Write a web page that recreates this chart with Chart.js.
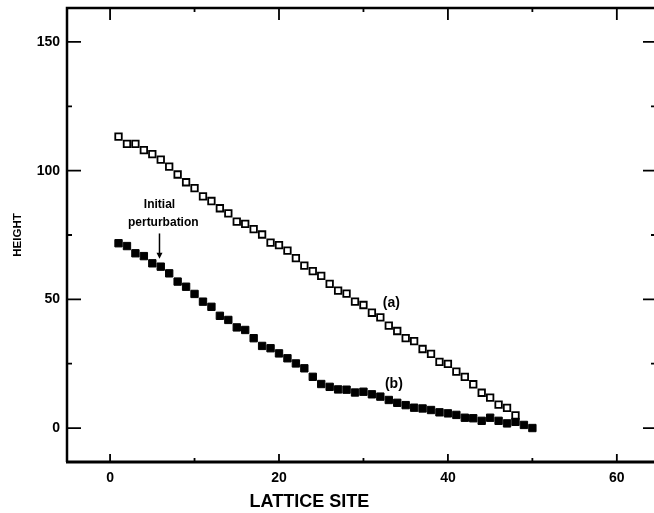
<!DOCTYPE html>
<html>
<head>
<meta charset="utf-8">
<script src="https://cdn.jsdelivr.net/npm/chart.js@4/dist/chart.umd.min.js"></script>
<style>
  html, body { margin: 0; padding: 0; background: #fff; }
  #wrap { width: 654px; height: 513px; }
</style>
</head>
<body>
<div id="wrap"><canvas id="c" width="654" height="513"></canvas></div>
<script>
// Lattice sites and surface heights
const sitesA = [1,2,3,4,5,6,7,8,9,10,11,12,13,14,15,16,17,18,19,20,21,22,23,24,25,26,27,28,29,30,31,32,33,34,35,36,37,38,39,40,41,42,43,44,45,46,47,48];
const heightA = [113.2,110.4,110.4,108,106.4,104.3,101.6,98.5,95.5,93.2,90,88.2,85.4,83.4,80.2,79.3,77.3,75.2,72,71.1,68.9,66,63.1,61,59.1,56,53.4,52.2,49.1,47.8,44.8,43,39.8,37.7,34.9,33.8,30.7,28.8,25.7,24.9,21.9,19.9,17,13.7,11.8,9.1,7.8,4.9];
const sitesB = [1,2,3,4,5,6,7,8,9,10,11,12,13,14,15,16,17,18,19,20,21,22,23,24,25,26,27,28,29,30,31,32,33,34,35,36,37,38,39,40,41,42,43,44,45,46,47,48,49,50];
const heightB = [71.8,70.7,67.9,66.8,64,62.7,60.1,56.9,54.9,52.1,49.1,47.1,43.6,42,39.1,38.1,34.9,31.9,31,29,27.1,25.1,23.2,19.9,17.1,16,15,14.9,13.8,14.1,13.1,12.2,10.9,9.8,8.9,7.9,7.6,7,6.1,5.7,5.1,4,3.8,2.8,4,2.8,1.8,2.4,1.2,0];
const xTickLabels = [0, 20, 40, 60];
const yTickLabels = [0, 50, 100, 150];

const FONT = "'Liberation Sans', Arial, sans-serif";

const toPoints = (xs, ys) => xs.map((x, i) => ({ x: x, y: ys[i] }));
const labelFor = list => v => {
  const r = Math.round(v);
  return Math.abs(v - r) < 1e-6 && list.includes(r) ? String(r) : '';
};

// Frame, inward tick marks and text annotations
const framePlugin = {
  id: 'frame',
  afterDraw(chart) {
    const ctx = chart.ctx;
    const a = chart.chartArea;
    const W = chart.width;
    const xs = chart.scales.x, ys = chart.scales.y;
    ctx.save();
    ctx.strokeStyle = '#000';
    ctx.lineCap = 'butt';

    // box (right side runs just past the canvas edge)
    ctx.lineWidth = 2.5;
    ctx.beginPath();
    ctx.moveTo(a.left, a.bottom); ctx.lineTo(a.left, a.top);
    ctx.lineTo(W + 4, a.top);
    ctx.moveTo(W + 3, a.top); ctx.lineTo(W + 3, a.bottom);
    ctx.stroke();
    ctx.lineWidth = 3;
    ctx.beginPath();
    ctx.moveTo(a.left - 1, a.bottom); ctx.lineTo(W + 4, a.bottom);
    ctx.stroke();

    // y ticks (left & right)
    ctx.lineWidth = 1.8;
    for (let v = 0; v <= 150; v += 25) {
      const y = ys.getPixelForValue(v);
      const major = v % 50 === 0;
      ctx.beginPath();
      ctx.moveTo(a.left, y); ctx.lineTo(a.left + (major ? 14 : 5), y);
      ctx.moveTo(W + 3, y); ctx.lineTo(W - (major ? 11 : 3), y);
      ctx.stroke();
    }
    // x ticks (top & bottom)
    for (let v = 0; v <= 60; v += 10) {
      const x = xs.getPixelForValue(v);
      const major = v % 20 === 0;
      ctx.beginPath();
      ctx.moveTo(x, a.top); ctx.lineTo(x, a.top + (major ? 12 : 4));
      ctx.moveTo(x, a.bottom); ctx.lineTo(x, a.bottom - (major ? 8 : 4));
      ctx.stroke();
    }

    ctx.fillStyle = '#000';
    ctx.textAlign = 'center';
    ctx.textBaseline = 'middle';

    // x-axis title, set left of the plot centre
    ctx.font = 'bold 18px ' + FONT;
    ctx.fillText('LATTICE SITE', xs.getPixelForValue(23.6), 502);

    // curve labels
    ctx.font = 'bold 14px ' + FONT;
    ctx.fillText('(a)', xs.getPixelForValue(33.3), ys.getPixelForValue(48.6));
    ctx.fillText('(b)', xs.getPixelForValue(33.6), ys.getPixelForValue(17.1));

    ctx.font = 'bold 12px ' + FONT;
    ctx.fillText('Initial', xs.getPixelForValue(5.85), ys.getPixelForValue(86.7));
    ctx.fillText('perturbation', xs.getPixelForValue(6.3), ys.getPixelForValue(79.7));

    // arrow to the perturbed site
    const ax = xs.getPixelForValue(5.85);
    const ay0 = ys.getPixelForValue(75.6), ay1 = ys.getPixelForValue(65.8);
    ctx.lineWidth = 1.5;
    ctx.beginPath();
    ctx.moveTo(ax, ay0); ctx.lineTo(ax, ay1 - 5);
    ctx.stroke();
    ctx.beginPath();
    ctx.moveTo(ax - 3, ay1 - 6); ctx.lineTo(ax + 3, ay1 - 6); ctx.lineTo(ax, ay1);
    ctx.closePath();
    ctx.fill();
    ctx.restore();
  }
};

new Chart(document.getElementById('c'), {
  type: 'scatter',
  data: {
    datasets: [
      {
        label: '(a)',
        data: toPoints(sitesA, heightA),
        pointStyle: 'rect',
        pointRadius: 4.6,
        pointBorderWidth: 1.8,
        pointBackgroundColor: '#fff',
        pointBorderColor: '#000',
        showLine: false
      },
      {
        label: '(b)',
        data: toPoints(sitesB, heightB),
        pointStyle: 'rect',
        pointRadius: 5.2,
        pointBorderWidth: 1,
        pointBackgroundColor: '#000',
        pointBorderColor: '#000',
        showLine: false
      }
    ]
  },
  options: {
    responsive: false,
    animation: false,
    clip: false,
    layout: { autoPadding: false, padding: { top: 8, right: 0, left: 0, bottom: 0 } },
    plugins: { legend: { display: false }, tooltip: { enabled: false } },
    scales: {
      x: {
        type: 'linear',
        min: -5.1,
        max: 64.4,
        grid: { display: false, drawTicks: false },
        border: { display: false },
        afterFit(s) { s.height = 51; s.paddingLeft = 0; s.paddingRight = 0; },
        ticks: {
          stepSize: 10,
          includeBounds: false,
          padding: 8,
          autoSkip: false,
          maxRotation: 0,
          color: '#000',
          font: { family: FONT, size: 14, weight: 'bold' },
          callback: labelFor(xTickLabels)
        },
        title: { display: false }
      },
      y: {
        type: 'linear',
        min: -13.2,
        max: 163.2,
        grid: { display: false, drawTicks: false },
        border: { display: false },
        afterFit(s) { s.width = 67; s.paddingTop = 0; s.paddingBottom = 0; },
        ticks: {
          stepSize: 25,
          includeBounds: false,
          padding: 7,
          autoSkip: false,
          color: '#000',
          font: { family: FONT, size: 14, weight: 'bold' },
          callback: labelFor(yTickLabels)
        },
        title: {
          display: true,
          text: 'HEIGHT',
          color: '#000',
          font: { family: FONT, size: 11.5, weight: 'bold' },
          padding: { top: 11, bottom: 0 }
        }
      }
    }
  },
  plugins: [framePlugin]
});
</script>
</body>
</html>
